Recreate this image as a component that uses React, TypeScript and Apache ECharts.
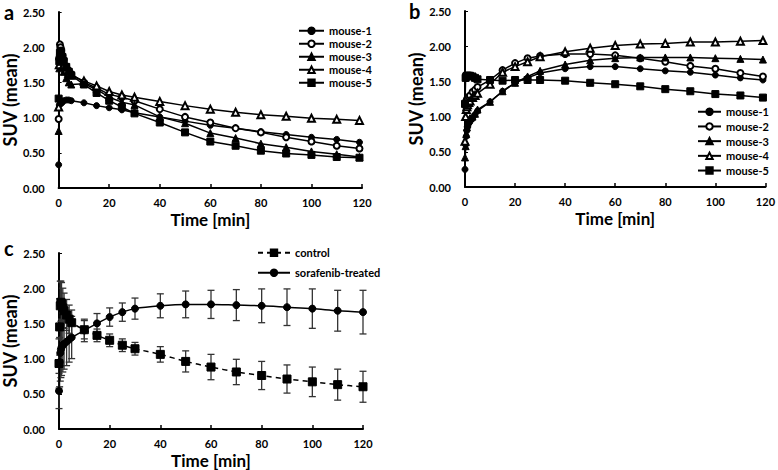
import React, { useEffect, useRef } from "react";
import * as echarts from "echarts";

// ---------- data ----------
const timesA = [0, 0.25, 0.5, 0.75, 1, 1.5, 2, 3, 4, 5, 10, 15, 20, 25, 30, 40, 50, 60, 70, 80, 90, 100, 110, 119];
const aMouse1 = [0.33, 1.18, 1.25, 1.22, 1.2, 1.22, 1.24, 1.25, 1.25, 1.24, 1.21, 1.17, 1.14, 1.11, 1.07, 1.01, 0.95, 0.89, 0.85, 0.8, 0.76, 0.72, 0.69, 0.65];
const aMouse2 = [0.98, 1.85, 2.04, 2.0, 1.95, 1.88, 1.82, 1.73, 1.67, 1.62, 1.5, 1.42, 1.33, 1.29, 1.24, 1.12, 1.01, 0.93, 0.85, 0.79, 0.72, 0.66, 0.6, 0.56];
const aMouse3 = [0.81, 1.7, 1.95, 1.9, 1.82, 1.72, 1.65, 1.56, 1.5, 1.47, 1.48, 1.4, 1.29, 1.22, 1.18, 1.01, 0.92, 0.78, 0.71, 0.63, 0.58, 0.52, 0.48, 0.44];
const aMouse4 = [1.15, 1.75, 1.88, 1.9, 1.85, 1.8, 1.75, 1.68, 1.63, 1.6, 1.52, 1.45, 1.37, 1.32, 1.29, 1.23, 1.17, 1.12, 1.075, 1.04, 1.02, 0.99, 0.975, 0.96];
const aMouse5 = [1.27, 1.8, 1.92, 1.95, 1.93, 1.86, 1.8, 1.72, 1.65, 1.6, 1.47, 1.35, 1.24, 1.15, 1.06, 0.93, 0.79, 0.66, 0.6, 0.53, 0.49, 0.47, 0.44, 0.43];

const timesB = [0, 0.25, 0.5, 0.75, 1, 1.5, 2, 3, 4, 5, 10, 15, 20, 25, 30, 40, 50, 60, 70, 80, 90, 100, 110, 119];
const bMouse1 = [0.25, 0.6, 0.72, 0.8, 0.85, 0.9, 0.93, 0.97, 1.03, 1.08, 1.21, 1.36, 1.48, 1.55, 1.62, 1.68, 1.71, 1.71, 1.68, 1.65, 1.63, 1.59, 1.55, 1.52];
const bMouse2 = [1.18, 1.2, 1.22, 1.24, 1.26, 1.28, 1.3, 1.35, 1.38, 1.42, 1.52, 1.66, 1.76, 1.83, 1.86, 1.89, 1.89, 1.87, 1.83, 1.78, 1.72, 1.68, 1.62, 1.57];
const bMouse3 = [0.42, 0.58, 0.75, 0.85, 0.9, 0.95, 0.98, 1.0, 1.04, 1.1, 1.21, 1.36, 1.48, 1.57, 1.65, 1.74, 1.8, 1.83, 1.84, 1.84, 1.84, 1.83, 1.82, 1.81];
const bMouse4 = [0.65, 1.0, 1.1, 1.14, 1.17, 1.2, 1.22, 1.27, 1.3, 1.33, 1.46, 1.63, 1.71, 1.78, 1.85, 1.92, 1.97, 2.01, 2.03, 2.04, 2.06, 2.06, 2.07, 2.08];
const bMouse5 = [1.18, 1.55, 1.57, 1.58, 1.58, 1.58, 1.58, 1.57, 1.55, 1.53, 1.52, 1.51, 1.52, 1.52, 1.52, 1.51, 1.48, 1.46, 1.43, 1.39, 1.36, 1.32, 1.3, 1.27];

const timesC = [0, 0.25, 0.5, 0.75, 1, 1.5, 2, 3, 4, 5, 10, 15, 20, 25, 30, 40, 50, 60, 70, 80, 90, 100, 110, 120];
const control = [0.93, 1.45, 1.75, 1.8, 1.78, 1.72, 1.68, 1.62, 1.56, 1.51, 1.41, 1.33, 1.26, 1.19, 1.14, 1.06, 0.96, 0.88, 0.81, 0.76, 0.71, 0.67, 0.63, 0.6];
const controlErr = [0.35, 0.4, 0.35, 0.3, 0.3, 0.28, 0.25, 0.22, 0.2, 0.18, 0.13, 0.09, 0.09, 0.09, 0.09, 0.11, 0.15, 0.18, 0.18, 0.2, 0.2, 0.21, 0.22, 0.22];
const sorafenib = [0.54, 0.95, 1.08, 1.13, 1.16, 1.19, 1.21, 1.24, 1.27, 1.3, 1.4, 1.5, 1.59, 1.66, 1.71, 1.75, 1.77, 1.77, 1.76, 1.75, 1.73, 1.71, 1.68, 1.66];
const sorafenibErr = [0.25, 0.35, 0.4, 0.4, 0.4, 0.38, 0.36, 0.34, 0.32, 0.3, 0.16, 0.14, 0.13, 0.13, 0.15, 0.17, 0.19, 0.2, 0.22, 0.24, 0.26, 0.28, 0.29, 0.31];

const mouseNames = ["mouse-1", "mouse-2", "mouse-3", "mouse-4", "mouse-5"];
const mouseSymbols = ["circle", "emptyCircle", "triangle", "emptyTriangle", "rect"];
const xTicks = { min: 0, max: 120, interval: 20 };
const yTicks = { min: 0, max: 2.5, interval: 0.5 };

const FONT = "Lato";

export default function App() {
  const ref = useRef<HTMLDivElement>(null);
  useEffect(() => {
    document.body.style.margin = "0";
    const chart = echarts.init(ref.current!, null, { renderer: "svg" });

    const grids = [
      { left: 58, top: 12, width: 304, height: 176 },
      { left: 465, top: 11, width: 302, height: 176 },
      { left: 59, top: 253, width: 304, height: 177 },
    ];

    const xAxis = grids.map((_, i) => ({
      type: "value",
      gridIndex: i,
      ...xTicks,
      name: "Time [min]",
      nameLocation: "middle",
      nameGap: 23,
      nameTextStyle: { fontFamily: FONT, fontWeight: "bold", fontSize: 17, color: "#000" },
      axisLine: { lineStyle: { color: "#000", width: 2 } },
      axisTick: { show: true, inside: true, length: 4, lineStyle: { color: "#000", width: 1.5 } },
      axisLabel: { fontFamily: FONT, fontWeight: "bold", fontSize: 11, color: "#000", margin: 9 },
      splitLine: { show: false },
    }));

    const yAxis = grids.map((_, i) => ({
      type: "value",
      gridIndex: i,
      ...yTicks,
      name: "SUV (mean)",
      nameLocation: "middle",
      nameGap: 39,
      nameTextStyle: { fontFamily: FONT, fontWeight: "bold", fontSize: 18, color: "#000" },
      axisLine: { show: true, lineStyle: { color: "#000", width: 2 } },
      axisTick: { show: true, inside: true, length: 3, lineStyle: { color: "#000", width: 1 } },
      axisLabel: {
        fontFamily: FONT, fontWeight: "bold", fontSize: 11, color: "#000", margin: 14,
        formatter: (v: number) => v.toFixed(2),
      },
      splitLine: { show: false },
    }));

    const mkLine = (name: string, symbol: string, times: number[], vals: number[], gi: number, extra: any = {}) => ({
      type: "line",
      name,
      xAxisIndex: gi,
      yAxisIndex: gi,
      data: times.map((t, i) => [t, vals[i]]),
      symbol,
      symbolSize: symbol.indexOf("ircle") >= 0 ? 6 : 7,
      showAllSymbol: true,
      lineStyle: { color: "#000", width: 1.5 },
      itemStyle: { color: "#000", borderColor: "#000", borderWidth: 1 },
      z: 3,
      ...extra,
    });

    const aSets = [aMouse1, aMouse2, aMouse3, aMouse4, aMouse5];
    const bSets = [bMouse1, bMouse2, bMouse3, bMouse4, bMouse5];

    const errSeries = (name: string, times: number[], vals: number[], errs: number[]) => ({
      type: "custom",
      name: name + "-err",
      xAxisIndex: 2,
      yAxisIndex: 2,
      data: times.map((t, i) => [t, vals[i], errs[i]]),
      encode: { x: 0, y: 1 },
      z: 2,
      renderItem: (params: any, api: any) => {
        const x = api.value(0), y = api.value(1), e = api.value(2);
        const top = api.coord([x, y + e]);
        const bot = api.coord([x, y - e]);
        const hw = 3.5;
        const st = { stroke: "#333", lineWidth: 1.3 };
        return {
          type: "group",
          children: [
            { type: "line", shape: { x1: top[0], y1: top[1], x2: bot[0], y2: bot[1] }, style: st },
            { type: "line", shape: { x1: top[0] - hw, y1: top[1], x2: top[0] + hw, y2: top[1] }, style: st },
            { type: "line", shape: { x1: bot[0] - hw, y1: bot[1], x2: bot[0] + hw, y2: bot[1] }, style: st },
          ],
        };
      },
    });

    const series: any[] = [
      ...mouseNames.map((n, k) => mkLine(n, mouseSymbols[k], timesA, aSets[k], 0)),
      ...mouseNames.map((n, k) => mkLine(n, mouseSymbols[k], timesB, bSets[k], 1)),
      errSeries("control", timesC, control, controlErr),
      errSeries("sorafenib-treated", timesC, sorafenib, sorafenibErr),
      mkLine("control", "rect", timesC, control, 2, {
        symbolSize: 8, smooth: 0.3, lineStyle: { color: "#000", width: 1.5, type: [5, 4] },
      }),
      mkLine("sorafenib-treated", "circle", timesC, sorafenib, 2, { symbolSize: 7, smooth: 0.3 }),
    ];

    const legendText = { fontFamily: FONT, fontWeight: "bold", fontSize: 11, color: "#000", lineHeight: 12.5 };

    const option: any = {
      animation: false,
      backgroundColor: "#fff",
      grid: grids,
      xAxis,
      yAxis,
      legend: [
        {
          data: mouseNames, orient: "vertical", left: 298, top: 24.5, padding: 0, itemWidth: 25, itemHeight: 8,
          itemGap: 0.5, textStyle: legendText, selectedMode: false,
        },
        {
          data: mouseNames, orient: "vertical", left: 697, top: 105.5, padding: 0, itemWidth: 23, itemHeight: 8,
          itemGap: 2.2, textStyle: legendText, selectedMode: false,
        },
        {
          data: ["control", "sorafenib-treated"], orient: "vertical", left: 257, top: 246.5, padding: 0, itemWidth: 32,
          itemHeight: 8, itemGap: 7.5, textStyle: legendText, selectedMode: false,
        },
      ],
      graphic: [
        { type: "text", left: 4, top: 2, style: { text: "a", font: `bold 20px ${FONT}`, fill: "#000" } },
        { type: "text", left: 409, top: 1, style: { text: "b", font: `bold 20px ${FONT}`, fill: "#000" } },
        { type: "text", left: 4, top: 238, style: { text: "c", font: `bold 20px ${FONT}`, fill: "#000" } },
      ],
      series,
    };

    chart.setOption(option);
    return () => chart.dispose();
  }, []);

  return <div ref={ref} style={{ position: "absolute", left: 0, top: 0, width: 778, height: 470 }} />;
}
